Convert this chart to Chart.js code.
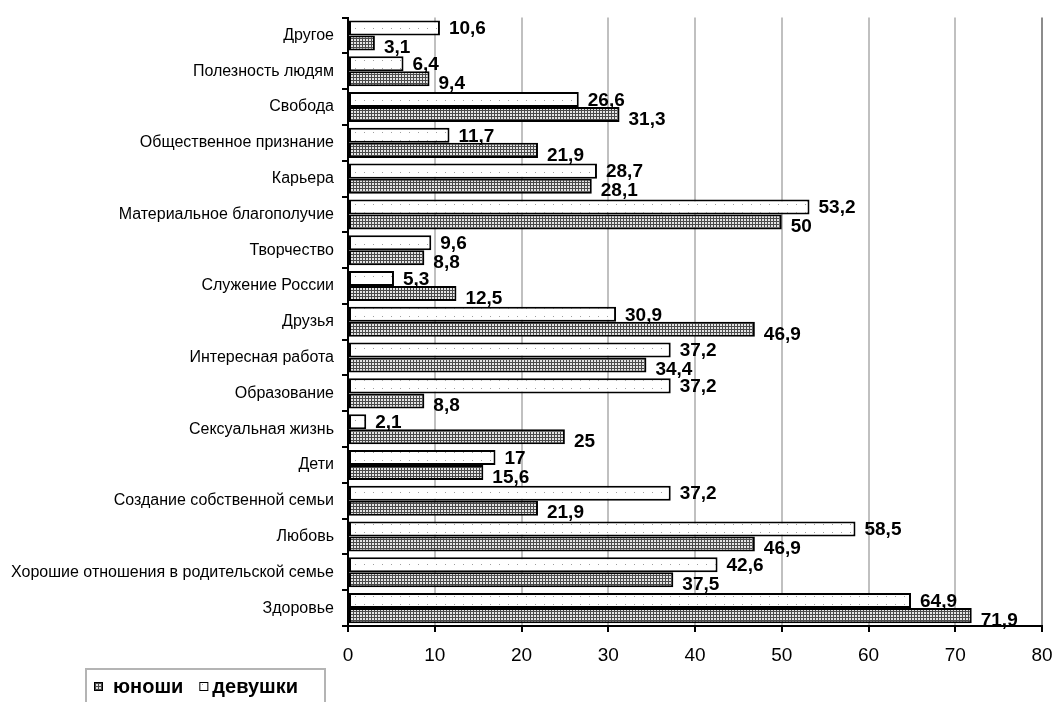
<!DOCTYPE html>
<html>
<head>
<meta charset="utf-8">
<script src="https://cdn.jsdelivr.net/npm/chart.js@4"></script>
<style>
  html, body { margin: 0; padding: 0; background: #fff; }
  #wrap { width: 1054px; height: 702px; position: relative; }
</style>
</head>
<body>
<div id="wrap"><canvas id="chart" width="1054" height="702"></canvas></div>
<script>
const categories = [
  'Другое', 'Полезность людям', 'Свобода', 'Общественное признание', 'Карьера',
  'Материальное благополучие', 'Творчество', 'Служение России', 'Друзья',
  'Интересная работа', 'Образование', 'Сексуальная жизнь', 'Дети',
  'Создание собственной семьи', 'Любовь', 'Хорошие отношения в родительской семье', 'Здоровье'
];
const girls = [10.6, 6.4, 26.6, 11.7, 28.7, 53.2, 9.6, 5.3, 30.9, 37.2, 37.2, 2.1, 17, 37.2, 58.5, 42.6, 64.9];
const boys = [3.1, 9.4, 31.3, 21.9, 28.1, 50, 8.8, 12.5, 46.9, 34.4, 8.8, 25, 15.6, 21.9, 46.9, 37.5, 71.9];
const xTicks = [0, 10, 20, 30, 40, 50, 60, 70, 80];

const FONT = '"Liberation Sans", Arial, sans-serif';

function makePattern(w, h, draw) {
  const c = document.createElement('canvas');
  c.width = w; c.height = h;
  const g = c.getContext('2d');
  draw(g);
  return document.getElementById('chart').getContext('2d').createPattern(c, 'repeat');
}
const boysFill = makePattern(3, 3, g => {
  g.fillStyle = '#4a4a4a'; g.fillRect(0, 0, 3, 3);
  g.fillStyle = '#e4e4e4'; g.fillRect(0, 0, 2, 2);
});
const girlsFill = makePattern(9, 8, g => {
  g.fillStyle = '#ffffff'; g.fillRect(0, 0, 9, 8);
  g.fillStyle = '#a0a0a0'; g.fillRect(4, 4, 1, 1);
});

const fmt = v => String(v).replace('.', ',');

const labelPlugin = {
  id: 'valueLabels',
  afterDatasetsDraw(chart) {
    const ctx = chart.ctx;
    ctx.save();
    ctx.font = 'bold 19px ' + FONT;
    ctx.fillStyle = '#000';
    ctx.textBaseline = 'middle';
    ctx.textAlign = 'left';
    chart.data.datasets.forEach((ds, di) => {
      chart.getDatasetMeta(di).data.forEach((bar, i) => {
        const dy = di === 0 ? 1 : 5;
        ctx.fillText(fmt(ds.data[i]), bar.x + 9, bar.y + dy);
      });
    });
    ctx.restore();
  }
};

const legendPlugin = {
  id: 'boxLegend',
  afterDraw(chart) {
    const ctx = chart.ctx;
    ctx.save();
    ctx.strokeStyle = '#b4b4b4';
    ctx.lineWidth = 2;
    ctx.strokeRect(86, 669, 239, 40);
    ctx.font = 'bold 20px ' + FONT;
    ctx.textBaseline = 'middle';
    const y = 687;
    ctx.fillStyle = boysFill;
    ctx.fillRect(94, y - 5, 9, 9);
    ctx.strokeStyle = '#000'; ctx.lineWidth = 1;
    ctx.strokeRect(94.5, y - 4.5, 8, 8);
    ctx.fillStyle = '#000';
    ctx.fillText('юноши', 113, y);
    const w = ctx.measureText('юноши').width;
    const x2 = 113 + w + 16;
    ctx.fillStyle = girlsFill;
    ctx.fillRect(x2, y - 5, 9, 9);
    ctx.strokeRect(x2 + 0.5, y - 4.5, 8, 8);
    ctx.fillStyle = '#000';
    ctx.fillText('девушки', x2 + 13, y);
    ctx.restore();
  }
};

new Chart(document.getElementById('chart'), {
  type: 'bar',
  data: {
    labels: categories,
    datasets: [
      { label: 'девушки', data: girls, backgroundColor: girlsFill, borderColor: '#000', borderWidth: 2, borderSkipped: false },
      { label: 'юноши', data: boys, backgroundColor: boysFill, borderColor: '#000', borderWidth: 2, borderSkipped: false }
    ]
  },
  options: {
    indexAxis: 'y',
    responsive: false,
    animation: false,
    layout: { padding: { top: 14, right: 12, left: 0, bottom: 0 } },
    datasets: { bar: { categoryPercentage: 0.84, barPercentage: 1 } },
    plugins: {
      legend: { display: false },
      tooltip: { enabled: false }
    },
    scales: {
      x: {
        min: 0, max: 80,
        afterBuildTicks: s => { s.ticks = xTicks.map(v => ({ value: v })); },
        afterFit: s => { s.height = 76; s.paddingRight = 0; s.paddingLeft = 0; },
        ticks: { color: '#000', padding: 12, font: { size: 19, family: FONT } },
        grid: {
          color: c => c.index === 8 ? '#8c8c8c' : '#c0c0c0',
          lineWidth: 2,
          tickColor: '#000',
          tickLength: 6
        },
        border: { color: '#000', width: 2 }
      },
      y: {
        afterFit: s => { s.width = 348; },
        ticks: { color: '#000', padding: 8, font: { size: 16, family: FONT } },
        grid: { offset: true, drawOnChartArea: false, tickColor: '#000', tickLength: 6, lineWidth: 2 },
        border: { color: '#000', width: 2 }
      }
    }
  },
  plugins: [labelPlugin, legendPlugin]
});
</script>
</body>
</html>
